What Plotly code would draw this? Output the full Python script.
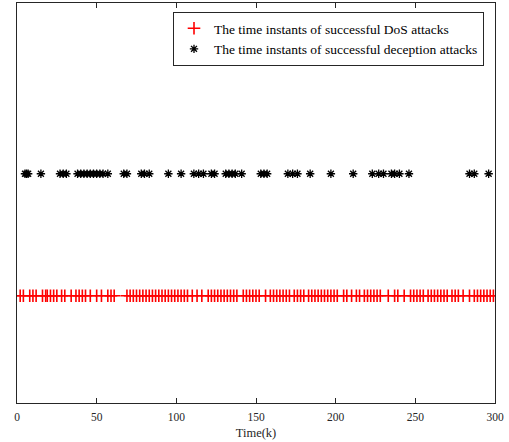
import plotly.graph_objects as go

# Time instants (k)
dos_times = [2, 4, 8, 10, 12, 16, 18, 19, 21, 23, 25, 28, 30, 34, 37, 39, 41, 43, 46, 50, 53, 57, 59, 61,
             69, 71, 73, 75, 77, 79, 81, 83, 85, 87, 89, 91, 93, 95, 97, 99, 101, 103, 105, 107, 110, 113,
             116, 120, 122, 124, 126, 128, 130, 132, 134, 136, 138, 142, 144, 146, 148, 150, 152, 156, 159,
             161, 163, 165, 167, 169, 171, 174, 176, 178, 180, 183, 185, 187, 189, 191, 193, 195, 197, 199,
             201, 205, 207, 210, 213, 215, 218, 220, 222, 224, 226, 228, 233, 237, 239, 243, 247, 249, 251,
             253, 255, 258, 260, 262, 264, 266, 268, 270, 273, 275, 277, 280, 284, 287, 289, 291, 293, 295,
             297, 299]
deception_times = [5, 6, 7, 15, 27, 29, 31, 38, 40, 42, 44, 46, 48, 50, 52, 54, 57, 67, 69, 78, 80, 83, 95,
                   103, 111, 114, 117, 122, 124, 131, 133, 135, 137, 141, 153, 155, 157, 170, 173, 176, 184,
                   197, 211, 223, 227, 230, 235, 237, 240, 246, 284, 287, 296]
dos_level = 1
deception_level = 2
x_ticks = [0, 50, 100, 150, 200, 250, 300]

font_family = "Liberation Serif, Times New Roman, serif"

fig = go.Figure()
fig.add_trace(go.Scatter(
    x=dos_times, y=[dos_level] * len(dos_times), mode="markers",
    name="The time instants of successful DoS attacks",
    marker=dict(symbol="cross-thin", size=9, color="red",
                line=dict(color="red", width=1.6)),
))
fig.add_trace(go.Scatter(
    x=deception_times, y=[deception_level] * len(deception_times), mode="markers",
    name="The time instants of successful deception attacks",
    marker=dict(symbol="asterisk", size=7, color="black",
                line=dict(color="black", width=1.3)),
))

fig.update_layout(
    width=509, height=442,
    margin=dict(l=17, r=14, t=3, b=39),
    paper_bgcolor="white", plot_bgcolor="white",
    font=dict(family=font_family, size=11, color="#262626"),
    showlegend=True,
    legend=dict(
        x=0.977, y=0.9775, xanchor="right", yanchor="top",
        bgcolor="white", bordercolor="#262626", borderwidth=1,
        font=dict(family=font_family, size=13.5, color="black"),
        itemwidth=30, tracegroupgap=0,
    ),
    xaxis=dict(
        range=[0, 300], tickvals=x_ticks, ticktext=[str(t) for t in x_ticks],
        ticks="inside", ticklen=5, tickcolor="#262626",
        showline=True, linecolor="#262626", linewidth=1, mirror="ticks",
        showgrid=False, zeroline=False, ticklabelstandoff=3,
        title=dict(text="Time(k)", font=dict(family=font_family, size=12.5, color="#262626"), standoff=6),
        tickfont=dict(family=font_family, size=11.5, color="#262626"),
    ),
    yaxis=dict(
        range=[0.12, 3.4], showticklabels=False, ticks="",
        showline=True, linecolor="#262626", linewidth=1, mirror=True,
        showgrid=False, zeroline=False,
    ),
)

fig.write_html("out.html", config={"displayModeBar": False},
               post_script="document.body.style.margin='0';")
